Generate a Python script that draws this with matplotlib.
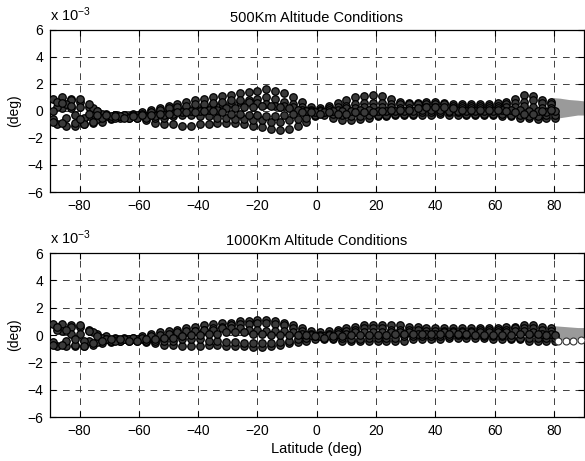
import matplotlib
matplotlib.use("Agg")
import matplotlib.pyplot as plt

plt.rcParams['font.family'] = ['Liberation Sans', 'DejaVu Sans']
plt.rcParams['mathtext.fontset'] = 'custom'
plt.rcParams['mathtext.rm'] = 'Liberation Sans'
plt.rcParams['mathtext.it'] = 'Liberation Sans'

# latitude samples of the tracks (deg)
lat_a = [-89, -86, -83, -80, -77, -74, -71, -68, -65, -62,
         -59, -56, -53, -50, -47, -44, -41, -38, -35, -32,
         -29, -26, -23, -20, -17, -14, -11, -8, -5, -2,
         1, 4, 7, 10, 13, 16, 19, 22, 25, 28,
         31, 34, 37, 40, 43, 46, 49, 52, 55, 58,
         61, 64, 67, 70, 73, 76, 79]
lat_b = [-87.5, -84.5, -81.5, -78.5, -75.5, -72.5, -69.5, -66.5, -63.5, -60.5,
         -57.5, -54.5, -51.5, -48.5, -45.5, -42.5, -39.5, -36.5, -33.5, -30.5,
         -27.5, -24.5, -21.5, -18.5, -15.5, -12.5, -9.5, -6.5, -3.5, -0.5,
         2.5, 5.5, 8.5, 11.5, 14.5, 17.5, 20.5, 23.5, 26.5, 29.5,
         32.5, 35.5, 38.5, 41.5, 44.5, 47.5, 50.5, 53.5, 56.5, 59.5,
         62.5, 65.5, 68.5, 71.5, 74.5, 77.5, 80.5]

# 500 km tracks (x 1e-3 deg)
top_t1 = [0.9, 1.0, 0.9, 0.7, 0.3, 0.0, -0.2, -0.3, -0.3, -0.2,
          -0.1, 0.1, 0.2, 0.4, 0.5, 0.7, 0.8, 0.9, 1.0, 1.1,
          1.2, 1.3, 1.4, 1.5, 1.6, 1.5, 1.3, 1.0, 0.7, 0.3,
          0.2, 0.4, 0.6, 0.8, 1.0, 1.1, 1.2, 1.1, 0.9, 0.7,
          0.6, 0.6, 0.7, 0.7, 0.6, 0.5, 0.5, 0.5, 0.5, 0.5,
          0.6, 0.7, 0.9, 1.2, 1.1, 0.8, 0.7]
top_t2 = [-1.0, -1.1, -1.1, -1.0, -0.9, -0.8, -0.6, -0.5, -0.5, -0.5,
          -0.7, -0.9, -1.0, -1.0, -1.1, -1.1, -1.0, -1.0, -0.9, -0.9,
          -0.9, -1.0, -1.1, -1.2, -1.3, -1.4, -1.3, -1.1, -0.8, -0.4,
          -0.3, -0.5, -0.7, -0.7, -0.6, -0.5, -0.4, -0.4, -0.3, -0.3,
          -0.3, -0.3, -0.3, -0.2, -0.3, -0.3, -0.3, -0.3, -0.3, -0.3,
          -0.4, -0.4, -0.5, -0.5, -0.6, -0.5, -0.5]
top_t3 = [-0.6, 0.2, 0.8, 0.3, -0.4, -0.6, -0.3, -0.3, -0.4, -0.4,
          -0.3, -0.2, 0.0, 0.1, 0.2, 0.3, 0.3, 0.4, 0.5, 0.5,
          0.6, 0.7, 0.8, 0.9, 1.0, 0.9, 0.7, 0.5, 0.3, 0.1,
          0.1, 0.2, 0.3, 0.4, 0.5, 0.6, 0.6, 0.6, 0.5, 0.5,
          0.5, 0.5, 0.5, 0.5, 0.5, 0.4, 0.4, 0.4, 0.4, 0.4,
          0.4, 0.5, 0.6, 0.7, 0.8, 0.6, 0.5]
top_t4 = [0.3, -0.5, -0.9, -0.5, 0.2, -0.2, -0.5, -0.4, -0.4, -0.3,
          -0.4, -0.5, -0.5, -0.4, -0.3, -0.3, -0.4, -0.4, -0.5, -0.5,
          -0.6, -0.6, -0.7, -0.7, -0.8, -0.8, -0.7, -0.6, -0.5, -0.3,
          -0.1, -0.2, -0.3, -0.4, -0.4, -0.3, -0.3, -0.3, -0.2, -0.2,
          -0.2, -0.1, -0.1, -0.1, -0.1, -0.1, -0.2, -0.2, -0.2, -0.2,
          -0.2, -0.3, -0.3, -0.4, -0.4, -0.3, -0.3]
top_t5 = [-0.8, -0.9, 0.2, 0.9, 0.5, 0.0, -0.4, -0.5, -0.3, -0.3,
          -0.2, -0.1, 0.1, 0.2, 0.3, 0.4, 0.5, 0.5, 0.6, 0.7,
          0.8, 0.8, 0.7, 0.6, 0.5, 0.4, 0.4, 0.3, 0.1, 0.0,
          0.0, 0.1, 0.1, 0.2, 0.2, 0.3, 0.3, 0.3, 0.3, 0.2,
          0.2, 0.2, 0.3, 0.3, 0.2, 0.2, 0.2, 0.2, 0.2, 0.2,
          0.2, 0.3, 0.3, 0.4, 0.3, 0.2, 0.2]
top_t6 = [0.7, 0.5, -0.3, -1.0, -0.8, -0.5, -0.4, -0.4, -0.5, -0.5,
          -0.5, -0.4, -0.3, -0.2, -0.1, 0.0, 0.0, 0.1, 0.1, 0.2,
          0.2, 0.3, 0.3, 0.4, 0.4, 0.3, 0.2, 0.1, 0.0, -0.1,
          -0.1, 0.0, 0.0, 0.0, 0.1, 0.1, 0.0, 0.0, 0.0, 0.0,
          0.0, 0.1, 0.1, 0.1, 0.0, 0.0, 0.0, 0.0, 0.0, 0.0,
          0.1, 0.1, 0.1, 0.0, 0.0, -0.1, 0.0]
top_t7 = [0.0, 0.6, 0.4, -0.6, -0.2, -0.3, -0.3, -0.4, -0.5, -0.4,
          -0.3, -0.3, -0.2, -0.2, -0.1, -0.1, -0.1, 0.0, 0.0, -0.1,
          -0.2, -0.2, -0.3, -0.3, -0.4, -0.4, -0.3, -0.2, -0.1, -0.1,
          -0.2, -0.1, -0.2, -0.2, -0.1, -0.1, -0.1, 0.0, 0.1, 0.1,
          0.1, 0.2, 0.3, 0.3, 0.3, 0.2, 0.1, 0.1, 0.1, 0.1,
          0.1, 0.0, -0.1, -0.2, -0.2, 0.0, 0.1]

# 1000 km tracks (x 1e-3 deg)
bot_t1 = [0.8, 0.8, 0.7, 0.6, 0.4, 0.1, -0.1, -0.2, -0.2, -0.2,
          -0.1, 0.1, 0.2, 0.3, 0.4, 0.5, 0.6, 0.7, 0.8, 0.9,
          0.9, 1.0, 1.0, 1.1, 1.1, 1.0, 0.9, 0.7, 0.5, 0.3,
          0.2, 0.3, 0.4, 0.5, 0.6, 0.7, 0.7, 0.7, 0.7, 0.7,
          0.6, 0.6, 0.5, 0.5, 0.5, 0.5, 0.5, 0.5, 0.5, 0.5,
          0.5, 0.6, 0.6, 0.7, 0.7, 0.6, 0.5]
bot_t2 = [-0.8, -0.8, -0.8, -0.8, -0.7, -0.6, -0.5, -0.4, -0.4, -0.4,
          -0.5, -0.6, -0.7, -0.7, -0.8, -0.8, -0.8, -0.7, -0.7, -0.8,
          -0.8, -0.8, -0.9, -0.9, -0.8, -0.7, -0.6, -0.5, -0.4, -0.3,
          -0.3, -0.3, -0.4, -0.4, -0.4, -0.4, -0.4, -0.4, -0.4, -0.4,
          -0.3, -0.3, -0.3, -0.3, -0.2, -0.2, -0.2, -0.2, -0.2, -0.3,
          -0.3, -0.3, -0.3, -0.4, -0.4, -0.4, -0.4]
bot_t3 = [-0.5, 0.3, 0.6, 0.1, -0.4, -0.5, -0.3, -0.3, -0.3, -0.3,
          -0.3, -0.2, -0.1, 0.0, 0.1, 0.2, 0.3, 0.4, 0.5, 0.6,
          0.7, 0.8, 0.8, 0.9, 0.9, 0.8, 0.7, 0.5, 0.3, 0.1,
          0.0, 0.1, 0.2, 0.3, 0.4, 0.5, 0.5, 0.5, 0.4, 0.4,
          0.4, 0.4, 0.3, 0.3, 0.3, 0.3, 0.3, 0.3, 0.4, 0.4,
          0.4, 0.4, 0.5, 0.5, 0.5, 0.4, 0.3]
bot_t4 = [0.4, -0.4, -0.7, -0.4, 0.2, -0.2, -0.4, -0.4, -0.3, -0.3,
          -0.4, -0.4, -0.4, -0.4, -0.3, -0.3, -0.3, -0.4, -0.4, -0.5,
          -0.5, -0.6, -0.6, -0.6, -0.6, -0.5, -0.4, -0.3, -0.2, -0.1,
          -0.1, -0.2, -0.2, -0.3, -0.3, -0.2, -0.2, -0.2, -0.2, -0.1,
          -0.1, -0.1, -0.1, -0.1, -0.1, 0.0, 0.0, 0.0, -0.1, -0.1,
          -0.1, -0.2, -0.2, -0.2, -0.2, -0.2, -0.2]
bot_t5 = [-0.7, -0.7, 0.1, 0.7, 0.3, -0.1, -0.3, -0.4, -0.3, -0.2,
          -0.2, -0.1, 0.0, 0.1, 0.2, 0.3, 0.3, 0.4, 0.4, 0.5,
          0.5, 0.5, 0.4, 0.4, 0.3, 0.3, 0.3, 0.2, 0.1, 0.0,
          -0.1, 0.0, 0.1, 0.1, 0.2, 0.2, 0.2, 0.2, 0.2, 0.2,
          0.2, 0.1, 0.1, 0.1, 0.2, 0.2, 0.2, 0.2, 0.2, 0.2,
          0.2, 0.2, 0.3, 0.3, 0.2, 0.1, 0.1]
bot_t6 = [0.6, 0.4, -0.3, -0.8, -0.6, -0.4, -0.3, -0.3, -0.4, -0.4,
          -0.3, -0.3, -0.2, -0.2, -0.1, 0.0, 0.0, 0.1, 0.1, 0.2,
          0.2, 0.2, 0.1, 0.1, 0.0, 0.0, 0.0, 0.0, 0.0, -0.1,
          -0.2, -0.1, -0.1, 0.0, 0.0, 0.0, 0.0, 0.0, 0.1, 0.1,
          0.1, 0.1, 0.1, 0.1, 0.1, 0.1, 0.1, 0.0, 0.0, 0.0,
          0.0, 0.0, 0.1, 0.1, 0.1, 0.0, 0.0]

# dense grey band near the north pole
grey_lat = [79, 82, 85, 88, 90]
top_grey_hi = [1.0, 0.95, 0.85, 0.8, 0.75]
top_grey_lo = [-0.6, -0.5, -0.4, -0.3, -0.3]
bot_grey_hi = [0.7, 0.65, 0.6, 0.55, 0.55]
bot_grey_lo = [-0.4, -0.35, -0.3, -0.3, -0.3]
open_lat = [81.5, 84, 86.5, 89]
open_val = [-0.45, -0.45, -0.4, -0.35]

titles = ['500Km Altitude Conditions', '1000Km Altitude Conditions']
xticks = [-80, -60, -40, -20, 0, 20, 40, 60, 80]
yticks = [-6, -4, -2, 0, 2, 4, 6]

fig = plt.figure(figsize=(5.85, 4.61), dpi=100)
ax1 = fig.add_axes([0.0855, 0.5835, 0.912, 0.3515])
ax2 = fig.add_axes([0.0855, 0.0954, 0.912, 0.3556])

panels = [
    (ax1, [top_t1, top_t2, top_t3, top_t4, top_t5, top_t6, top_t7],
     top_grey_hi, top_grey_lo),
    (ax2, [bot_t1, bot_t2, bot_t3, bot_t4, bot_t5, bot_t6],
     bot_grey_hi, bot_grey_lo),
]

for i, (ax, tracks, ghi, glo) in enumerate(panels):
    ax.fill_between(grey_lat, glo, ghi, color='#9a9a9a', lw=0, zorder=2)
    for k, tr in enumerate(tracks):
        lats = lat_a if k % 2 == 0 else lat_b
        ax.plot(lats, tr, 'o', ms=5.4, mfc='#3a3a3a', mec='black', mew=0.9, zorder=3)
    if i == 1:
        ax.plot(open_lat, open_val, 'o', ms=5.0, mfc='white', mec='#333333',
                mew=0.8, zorder=3)
    ax.set_xlim(-90, 90)
    ax.set_ylim(-6, 6)
    ax.set_xticks(xticks)
    ax.set_yticks(yticks)
    ax.tick_params(direction='in', top=True, right=True, length=4, labelsize=10,
                   pad=5)
    ax.grid(True, color='#222222', lw=0.6, ls=(0, (8, 7)))
    ax.set_axisbelow(True)
    for s in ax.spines.values():
        s.set_linewidth(0.9)
    ax.set_title(titles[i], fontsize=10.5, pad=6)
    ax.set_ylabel('(deg)', fontsize=10, labelpad=4)
    ax.text(0.0, 1.035, r'x 10$^{-3}$', transform=ax.transAxes, fontsize=10.5,
            ha='left', va='bottom')

ax2.set_xlabel('Latitude (deg)', fontsize=10.5, labelpad=3)

fig.savefig('out.png', dpi=100)
